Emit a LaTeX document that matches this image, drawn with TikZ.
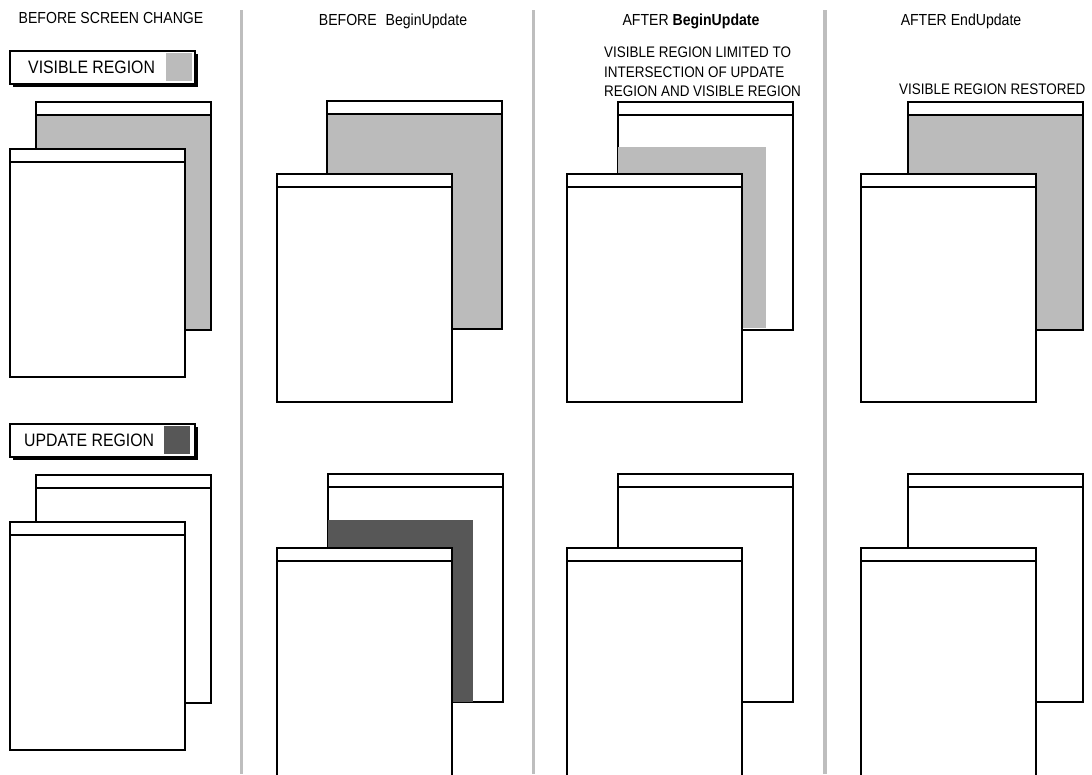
\documentclass[tikz,border=0pt]{standalone}
\usepackage{fontspec}
\setmainfont[FakeStretch=0.88]{Liberation Sans}
\usetikzlibrary{positioning,shadows}
\definecolor{visgray}{RGB}{187,187,187}
\definecolor{updgray}{RGB}{87,87,87}
\definecolor{rulegray}{RGB}{190,190,190}

\tikzset{
  win/.style={
    draw,
    line width=2.4pt,
    fill=white,
    anchor=north west,
    inner sep=0pt,
    minimum width=175pt,
    minimum height=228pt,
    path picture={
      \fill[white] (path picture bounding box.north west)
        rectangle ([yshift=-13pt]path picture bounding box.north east);
      \draw[line width=2pt] ([yshift=-13pt]path picture bounding box.north west)
        -- ([yshift=-13pt]path picture bounding box.north east);
    }
  },
  legend/.style={
    draw,
    line width=1.8pt,
    fill=white,
    anchor=north west,
    inner sep=0pt,
    minimum width=185pt,
    minimum height=33pt,
    drop shadow={shadow xshift=3pt, shadow yshift=-3pt, fill=black, opacity=1}
  },
  swatch/.style={anchor=north west, inner sep=0pt, minimum width=26pt, minimum height=28pt},
  caption/.style={inner sep=2pt, font=\fontsize{16}{19.5}\selectfont},
  note/.style={inner sep=2pt, font=\fontsize{15.3}{19.5}\selectfont},
  legendtext/.style={inner sep=0pt, anchor=west, font=\fontsize{18}{20}\selectfont},
  sep/.style={draw=rulegray, line width=3.6pt}
}

\begin{document}
\begin{tikzpicture}[x=1pt, y=-1pt]
\clip (0,0) rectangle (1092,774);
\fill[white] (0,0) rectangle (1092,774);

% column rules
\draw[sep] (241.5,10) -- (241.5,774);
\draw[sep] (533.5,10) -- (533.5,774);
\draw[sep] (825,10) -- (825,774);

% titles
\node[caption] (t1) at (111,18) {BEFORE SCREEN CHANGE};
\node[caption] (t2) at (393,21) {BEFORE\hspace{5pt} BeginUpdate};
\node[caption] (t3) at (691,21) {AFTER \textbf{BeginUpdate}};
\node[caption] (t4) at (961,21) {AFTER EndUpdate};
\node[note, anchor=north west, align=left] (n3) at (602,45)
  {VISIBLE REGION LIMITED TO\\INTERSECTION OF UPDATE\\REGION AND VISIBLE REGION};
\node[note, anchor=west] (n4) at (897,89) {VISIBLE REGION RESTORED};

% legends
\node[legend] (visbox) at (9,50) {};
\node[legendtext] (vistext) at (28,67) {VISIBLE REGION};
\node[swatch, fill=visgray] (visswatch) at (166,53) {};

\node[legend] (updbox) at (9,423) {};
\node[legendtext] (updtext) at (24,440) {UPDATE REGION};
\node[swatch, fill=updgray] (updswatch) at (164,426) {};

% before screen change
\node[win, fill=visgray] (b1) at (35,101) {};
\node[win] (f1) at (9,148) {};
\node[win] (b5) at (35,474) {};
\node[win] (f5) at (9,521) {};

% before BeginUpdate
\node[win, fill=visgray] (b2) at (326,100) {};
\node[win] (f2) at (276,173) {};
\node[win] (b6) at (327,473) {};
\fill[updgray] (328.2,520) rectangle (473,701.8);
\node[win] (f6) at (276,547) {};

% after BeginUpdate
\node[win] (b3) at (617,101) {};
\fill[visgray] (618.2,147) rectangle (766,327.8);
\node[win] (f3) at (566,173) {};
\node[win] (b7) at (617,473) {};
\node[win] (f7) at (566,547) {};

% after EndUpdate
\node[win, fill=visgray] (b4) at (907,101) {};
\node[win] (f4) at (860,173) {};
\node[win] (b8) at (907,473) {};
\node[win] (f8) at (860,547) {};
\end{tikzpicture}
\end{document}
